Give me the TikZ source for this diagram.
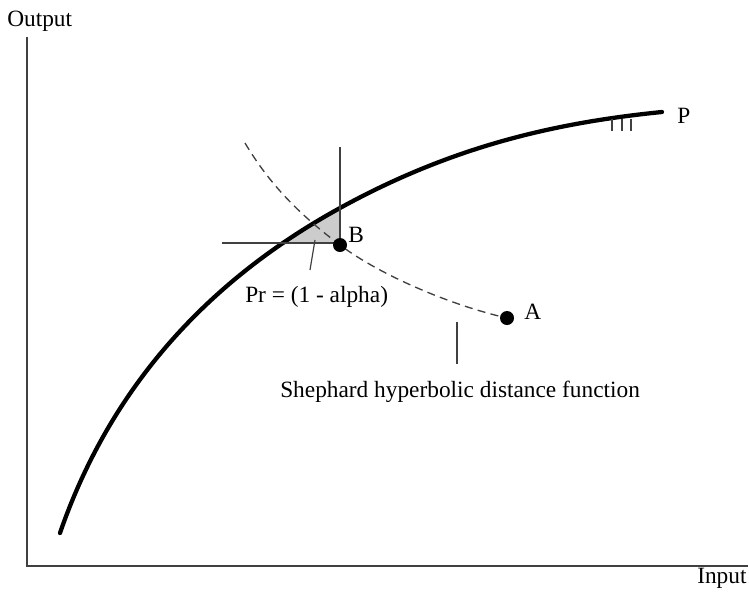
\documentclass[tikz,border=0pt]{standalone}
\usepackage{fontspec}
\setmainfont{Liberation Serif}
\usepackage{tikz}
\usetikzlibrary{arrows.meta,positioning,calc}
\definecolor{figline}{rgb}{0.25,0.25,0.25}
\definecolor{figshade}{rgb}{0.80,0.80,0.80}

\begin{document}
\begin{tikzpicture}[
  x=0.75pt,y=-0.75pt,
  lbl/.style={inner sep=0pt,anchor=base west,font=\fontsize{17.5}{21}\selectfont},
  axis/.style={draw=figline,line width=1.1pt},
  guide/.style={draw=figline,line width=0.9pt},
  frontier/.style={draw=black,line width=3.2pt,line cap=round},
  hyper/.style={draw=figline,line width=1pt,dash pattern=on 6pt off 4pt},
  dot/.style={circle,fill=black,inner sep=0pt,minimum size=10.5pt}
]
\useasboundingbox (0,0) rectangle (749,597);

% axes
\coordinate (orig) at (27,566);
\coordinate (ytop) at (27,37);
\coordinate (xend) at (748,566);
\draw[axis] (ytop) -- (orig) -- (xend);
\node[lbl] (output) at (7,26) {Output};
\node[lbl] (input) at (697,583) {Input};

% frontier ends and the point above B
\coordinate (f0) at (60,533);
\coordinate (f2) at (340,208);
\coordinate (f3) at (662,112);
\coordinate (Apt) at (507,318);
\coordinate (Bpt) at (340,245);

% shaded probability region
\begin{scope}
  \clip (200,208) rectangle (340,243);
  \fill[figshade] (f0) .. controls (120,359) and (240,263) .. (f2)
    -- (340,533) -- cycle;
\end{scope}

% production frontier
\draw[frontier] (f0) .. controls (120,359) and (240,263) .. (f2)
  .. controls (450,147.5) and (552,123) .. (f3);
\foreach \tx in {612,622,631}
  \draw[guide] (\tx,119) -- (\tx,131);
\node[lbl] (plbl) at (677,123) {P};

% guide lines through B
\coordinate (vtop) at (340,147);
\coordinate (hleft) at (222,243);
\draw[guide] (vtop) -- (Bpt);
\draw[guide] (hleft) -- (340,243);

% Shephard hyperbolic distance function
\coordinate (hstart) at (245,143);
\draw[hyper] (hstart) .. controls (270,185) and (300,215) .. (Bpt)
  .. controls (380,275) and (450,305) .. (Apt);

% observed and projected points
\node[dot] (A) at (Apt) {};
\node[dot] (B) at (Bpt) {};
\node[lbl] (albl) at (524,319) {A};
\node[lbl] (blbl) at (348,242) {B};

% labels with pointers
\node[lbl] (prlbl) at (245,302) {Pr = (1 - alpha)};
\coordinate (prtip) at (315,240);
\draw[guide] (prtip) -- (310,270);
\node[lbl] (shlbl) at (280,397) {Shephard hyperbolic distance function};
\coordinate (shtip) at (457,322);
\draw[guide] (shtip) -- (457,364);
\end{tikzpicture}
\end{document}
